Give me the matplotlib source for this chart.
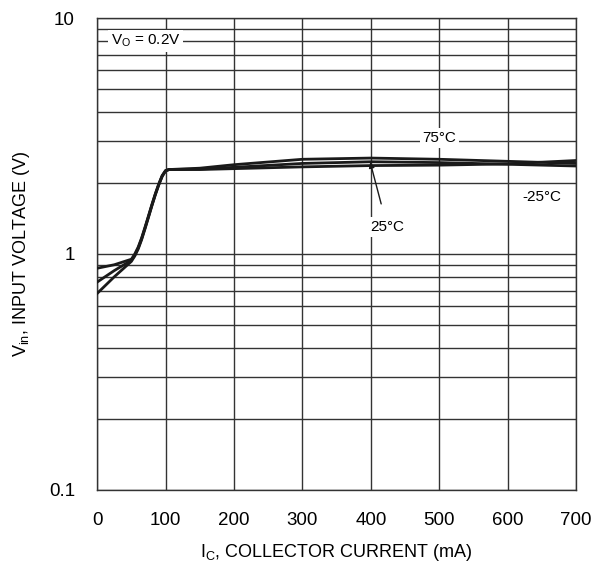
import matplotlib
matplotlib.use("Agg")
import matplotlib.pyplot as plt
import numpy as np

plt.rcParams['font.family'] = ['Liberation Sans', 'DejaVu Sans']

# collector current (mA) and input voltage (V) for the three temperatures
ic = [0, 25, 50, 55, 60, 65, 70, 75, 80, 85, 90, 95, 100, 105, 150, 200, 300, 400, 500, 600, 700]
vin_75 = [0.68, 0.80, 0.93, 0.98, 1.05, 1.15, 1.28, 1.43, 1.60, 1.78, 1.96, 2.13, 2.25, 2.28,
          2.31, 2.39, 2.52, 2.55, 2.52, 2.47, 2.42]
vin_25 = [0.76, 0.85, 0.94, 0.99, 1.06, 1.16, 1.29, 1.44, 1.61, 1.79, 1.97, 2.14, 2.25, 2.28,
          2.29, 2.33, 2.42, 2.46, 2.44, 2.40, 2.36]
vin_m25 = [0.87, 0.90, 0.95, 1.00, 1.07, 1.17, 1.30, 1.45, 1.62, 1.80, 1.98, 2.15, 2.26, 2.28,
           2.28, 2.30, 2.34, 2.37, 2.38, 2.41, 2.49]

xticks = [0, 100, 200, 300, 400, 500, 600, 700]
yticks = [0.1, 1, 10]
ytick_labels = ['0.1', '1', '10']

fig = plt.figure(figsize=(6.11, 5.65), dpi=100)
ax = fig.add_axes([0.159, 0.133, 0.784, 0.835])

for v in [vin_75, vin_25, vin_m25]:
    ax.plot(ic, v, color='#1a1a1a', lw=2.0, solid_joinstyle='round', zorder=3)

ax.set_yscale('log')
ax.set_xlim(0, 700)
ax.set_ylim(0.1, 10)
ax.set_xticks(xticks)
ax.set_xticklabels([str(t) for t in xticks], fontsize=13.5)
ax.set_yticks(yticks)
ax.set_yticklabels(ytick_labels, fontsize=13.5)
ax.tick_params(axis='both', which='both', length=0)
ax.tick_params(axis='x', pad=16)
ax.tick_params(axis='y', pad=16)
ax.yaxis.set_minor_formatter(matplotlib.ticker.NullFormatter())

ax.grid(True, which='major', color='#333333', lw=1.0)
ax.grid(True, which='minor', axis='y', color='#333333', lw=1.0)
for s in ax.spines.values():
    s.set_color('#333333')
    s.set_linewidth(1.0)

ax.set_xlabel('I$_\\mathregular{C}$, COLLECTOR CURRENT (mA)', fontsize=13, labelpad=9)
ax.set_ylabel('V$_\\mathregular{in}$, INPUT VOLTAGE (V)', fontsize=13, labelpad=12)

box = dict(facecolor='white', edgecolor='none', pad=2)
ax.text(20, 8.0, 'V$_\\mathregular{O}$ = 0.2V', fontsize=11, va='center', ha='left', bbox=box, zorder=4)
ax.text(500, 3.1, '75°C', fontsize=11, ha='center', va='center', bbox=box, zorder=4)
ax.text(650, 1.75, '-25°C', fontsize=11, ha='center', va='center', bbox=box, zorder=4)
ax.annotate('25°C', xy=(399, 2.45), xytext=(424, 1.30), fontsize=11,
            ha='center', va='center', bbox=box, zorder=4,
            arrowprops=dict(arrowstyle='-|>', color='#1a1a1a', lw=1.0,
                            mutation_scale=8, shrinkA=10, shrinkB=0))

fig.savefig('out.png', dpi=100)
